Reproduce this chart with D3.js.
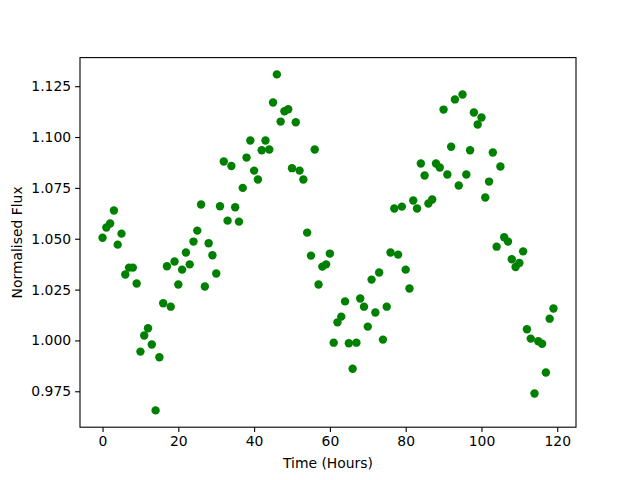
<!DOCTYPE html>
<meta charset="utf-8">
<head>
<script src="https://d3js.org/d3.v7.min.js"></script>
<style>
  body { margin: 0; background: #fff; }
  text { font-family: "DejaVu Sans", sans-serif; }
</style>
</head>
<body>
<div id="my_dataviz"></div>
<script>

// hours and normalised flux
var hours = d3.range(0, 120);
var flux = [
  1.0505, 1.0555, 1.0575, 1.0639, 1.0471, 1.0525, 1.0324, 1.0358, 1.0358, 1.0280,
  0.9945, 1.0024, 1.0060, 0.9980, 0.9656, 0.9917, 1.0183, 1.0365, 1.0166, 1.0388,
  1.0275, 1.0348, 1.0432, 1.0374, 1.0486, 1.0540, 1.0668, 1.0265, 1.0478, 1.0419,
  1.0329, 1.0660, 1.0880, 1.0589, 1.0858, 1.0655, 1.0584, 1.0750, 1.0899, 1.0983,
  1.0835, 1.0791, 1.0935, 1.0983, 1.0939, 1.1170, 1.1308, 1.1076, 1.1127, 1.1137,
  1.0847, 1.1073, 1.0835, 1.0791, 1.0530, 1.0417, 1.0939, 1.0275, 1.0363, 1.0374,
  1.0427, 0.9989, 1.0089, 1.0117, 1.0192, 0.9986, 0.9861, 0.9989, 1.0206, 1.0166,
  1.0068, 1.0299, 1.0137, 1.0334, 1.0004, 1.0166, 1.0432, 1.0649, 1.0422, 1.0658,
  1.0348, 1.0255, 1.0688, 1.0649, 1.0870, 1.0811, 1.0673, 1.0693, 1.0870, 1.0850,
  1.1135, 1.0816, 1.0952, 1.1185, 1.0762, 1.1209, 1.0816, 1.0935, 1.1121, 1.1062,
  1.1096, 1.0703, 1.0781, 1.0924, 1.0461, 1.0855, 1.0507, 1.0486, 1.0399, 1.0361,
  1.0381, 1.0438, 1.0055, 1.0009, 0.9739, 0.9996, 0.9984, 0.9842, 1.0107, 1.0157
];
var xTicks = [0, 20, 40, 60, 80, 100, 120];
var yTicks = [0.975, 1.000, 1.025, 1.050, 1.075, 1.100, 1.125];

var data = hours.map(function (h, i) { return {h: h, f: flux[i]}; });

var margin = {top: 57.6, right: 64, bottom: 52.8, left: 80},
    width = 640 - margin.left - margin.right,
    height = 480 - margin.top - margin.bottom;

var svg = d3.select("#my_dataviz")
  .append("svg")
    .attr("width", 640)
    .attr("height", 480)
  .append("g")
    .attr("transform", "translate(" + margin.left + "," + margin.top + ")");

// matplotlib style 5% padding
var xPad = (119 - 0) * 0.05;
var x = d3.scaleLinear()
  .domain([0 - xPad, 119 + xPad])
  .range([0, width]);
var yMin = d3.min(flux), yMax = d3.max(flux), yPad = (yMax - yMin) * 0.05;
var y = d3.scaleLinear()
  .domain([yMin - yPad, yMax + yPad])
  .range([height, 0]);

// dots
svg.append("g")
  .selectAll("circle")
  .data(data)
  .enter()
  .append("circle")
    .attr("cx", function (d) { return x(d.h); })
    .attr("cy", function (d) { return y(d.f); })
    .attr("r", 4.2)
    .style("fill", "#008000");

// axes
var xAxis = svg.append("g")
  .attr("transform", "translate(0," + height + ")")
  .call(d3.axisBottom(x).tickValues(xTicks).tickSize(4.9).tickPadding(4).tickFormat(d3.format("d")));
var yAxis = svg.append("g")
  .call(d3.axisLeft(y).tickValues(yTicks).tickSize(4.9).tickPadding(4).tickFormat(d3.format(".3f")));

[xAxis, yAxis].forEach(function (a) {
  a.select(".domain").remove();
  a.selectAll("text").style("font-family", "DejaVu Sans").style("font-size", "13.9px").attr("fill", "#000");
  a.selectAll("line").attr("stroke", "#000").attr("stroke-width", 1.1);
});

// frame
svg.append("rect")
  .attr("x", 0).attr("y", 0)
  .attr("width", width).attr("height", height)
  .attr("fill", "none")
  .attr("stroke", "#000")
  .attr("stroke-width", 1.1);

// labels
svg.append("text")
  .attr("x", width / 2)
  .attr("y", height + 41)
  .attr("text-anchor", "middle")
  .style("font-size", "13.9px")
  .text("Time (Hours)");

svg.append("text")
  .attr("transform", "translate(" + (-58) + "," + (height / 2) + ")rotate(-90)")
  .attr("text-anchor", "middle")
  .style("font-size", "13.9px")
  .text("Normalised Flux");

</script>
</body>
</html>
